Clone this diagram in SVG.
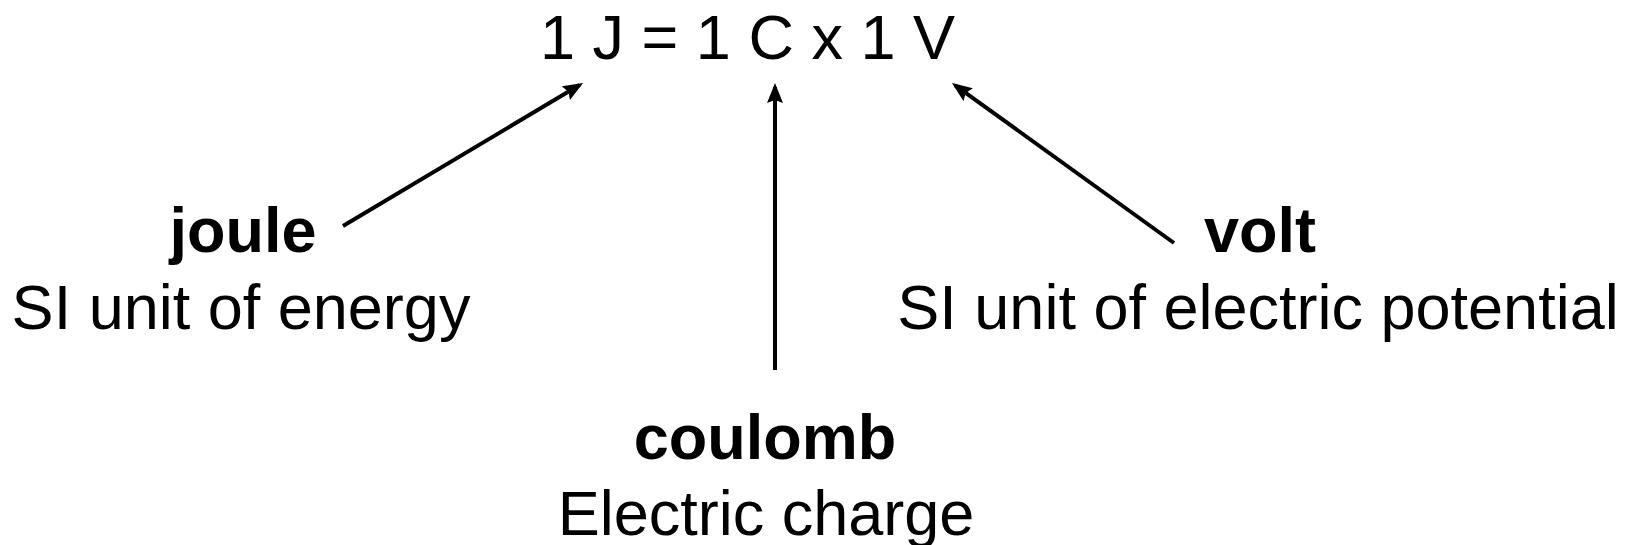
<svg xmlns="http://www.w3.org/2000/svg" width="1629" height="545" viewBox="0 0 1629 545">
  <style>
    text { font-family: "Liberation Sans", Arial, sans-serif; font-size: 63px; fill: #000; }
    .b { font-weight: bold; }
    .m { text-anchor: middle; }
    .conn { stroke: #000; stroke-width: 4; fill: none; marker-end: url(#ah); }
  </style>
  <defs>
    <marker id="ah" markerUnits="userSpaceOnUse" markerWidth="20" markerHeight="16" refX="16" refY="8" orient="auto">
      <path d="M0,0 L20,8 L0,16 L3,8 z" fill="#000"/>
    </marker>
  </defs>
  <rect width="1629" height="545" fill="#fff"/>
  <g id="formula">
    <text x="540" y="59" xml:space="preserve">1 J = 1 C x 1 V</text>
  </g>
  <g id="joule">
    <text class="b m" x="243" y="252">joule</text>
    <text class="m" x="241" y="329">SI unit of energy</text>
  </g>
  <g id="coulomb">
    <text class="b m" x="765" y="459">coulomb</text>
    <text class="m" x="766" y="535">Electric charge</text>
  </g>
  <g id="volt">
    <text class="b m" x="1260" y="252">volt</text>
    <text class="m" x="1258" y="329">SI unit of electric potential</text>
  </g>
  <g id="connectors">
    <line class="conn" x1="343" y1="226" x2="579.6" y2="85"/>
    <line class="conn" x1="775" y1="370" x2="775" y2="87"/>
    <line class="conn" x1="1174" y1="243" x2="955.2" y2="85.3"/>
  </g>
</svg>
